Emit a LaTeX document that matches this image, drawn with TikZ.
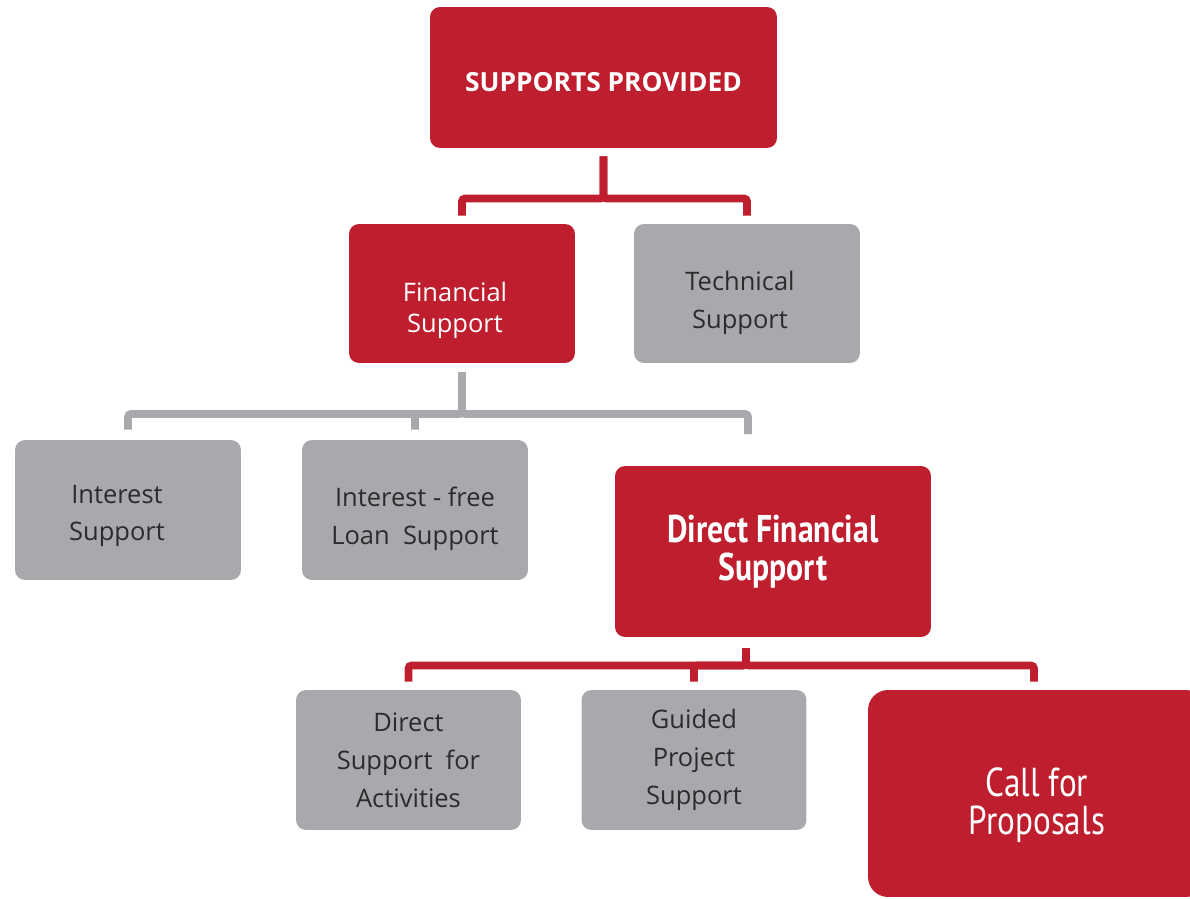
\documentclass[tikz,border=0pt]{standalone}
\usepackage{fontspec}
\setmainfont{Open Sans}
\newfontfamily\condfont[FakeStretch=0.82]{PT Sans}
\usepackage{xcolor}
\usepackage{tikz}

\definecolor{brandred}{HTML}{BE1E2D}
\definecolor{brandgray}{HTML}{A7A9AC}
\definecolor{darktext}{HTML}{2B2B2B}

\begin{document}
\begin{tikzpicture}[
    x=0.02cm, y=-0.02cm,
    redbox/.style={rectangle, fill=brandred, text=white, rounded corners=0.2cm, align=center, inner sep=0pt},
    graybox/.style={rectangle, fill=brandgray, text=darktext, rounded corners=0.2cm, align=center, minimum width=4.52cm, minimum height=2.8cm, inner sep=0pt, font=\fontsize{14.5}{21.5}\selectfont},
    redtext/.style={text=white, align=center, inner sep=0pt},
    graytext/.style={text=darktext, align=center, inner sep=0pt, font=\fontsize{14.5}{21.5}\selectfont},
    redlink/.style={draw=brandred, line width=4.4pt, rounded corners=0.06cm},
    graylink/.style={draw=brandgray, line width=4.4pt, rounded corners=0.06cm}
]
    \useasboundingbox (0,0) rectangle (1190,899);
    \clip (0,0) rectangle (1190,899);

    % Top level
    \node[redbox, minimum width=6.94cm, minimum height=2.82cm,
        label={[redtext, yshift=-0.1cm, font=\bfseries\fontsize{15}{18}\selectfont]center:SUPPORTS PROVIDED}] (top) at (603.5,77.5) {};

    % Second level
    \node[redbox, minimum width=4.52cm, minimum height=2.78cm,
        label={[redtext, xshift=-0.14cm, yshift=-0.34cm, font=\fontsize{14.5}{17.6}\selectfont]center:{Financial\\Support}}] (fin) at (462,293.5) {};
    \node[graybox, minimum height=2.78cm,
        label={[graytext, xshift=-0.14cm, yshift=-0.18cm]center:{Technical\\Support}}] (tech) at (747,293.5) {};

    % Third level
    \node[graybox,
        label={[graytext, xshift=-0.22cm, yshift=-0.12cm]center:{Interest\\Support}}] (int) at (128,510) {};
    \node[graybox,
        label={[graytext, yshift=-0.18cm]center:{Interest - free\\Loan\ \ Support}}] (loan) at (415,510) {};
    \node[redbox, minimum width=6.32cm, minimum height=3.42cm, font=\condfont\bfseries\fontsize{22}{21.5}\selectfont] (df) at (773,551.5) {Direct Financial\\Support};

    % Fourth level
    \node[graybox, minimum width=4.5cm] (act) at (408.5,760) {Direct\\Support\ \ for\\Activities};
    \node[graybox, minimum width=4.5cm] (guided) at (694,760) {Guided\\Project\\Support};
    \node[redbox, rounded corners=0.4cm, minimum width=6.76cm, minimum height=4.14cm,
        label={[redtext, yshift=-0.24cm, font=\condfont\fontsize{23}{21.5}\selectfont]center:{Call for\\Proposals}}] (call) at (1037,793.5) {};

    % Bus lines
    \coordinate (busA) at (0,198.5);
    \coordinate (busB) at (0,414);
    \coordinate (busC) at (0,665.5);
    \coordinate (dfstub) at (748,434);
    \coordinate (dfout) at ([xshift=-0.54cm]df.south);

    % Connectors
    \draw[redlink, shorten <=0.16cm, shorten >=0.16cm] (top.south) -- (top.south |- busA) -| (fin.north);
    \draw[redlink, shorten <=0.16cm, shorten >=0.16cm] (top.south) -- (top.south |- busA) -| (tech.north);
    \draw[graylink, shorten <=0.18cm, shorten >=0.2cm] (fin.south) -- (fin.south |- busB) -| (int.north);
    \draw[graylink, shorten <=0.18cm, shorten >=0.2cm] (fin.south) -- (fin.south |- busB) -| (loan.north);
    \draw[graylink, shorten <=0.18cm] (fin.south) -- (fin.south |- busB) -| (dfstub);
    \draw[redlink, shorten <=0.22cm, shorten >=0.16cm] (dfout) -- (dfout |- busC) -| (act.north);
    \draw[redlink, shorten <=0.22cm, shorten >=0.16cm] (dfout) -- (dfout |- busC) -| (guided.north);
    \draw[redlink, shorten <=0.22cm, shorten >=0.16cm] (dfout) -- (dfout |- busC) -| ([xshift=-0.06cm]call.north);
\end{tikzpicture}
\end{document}
